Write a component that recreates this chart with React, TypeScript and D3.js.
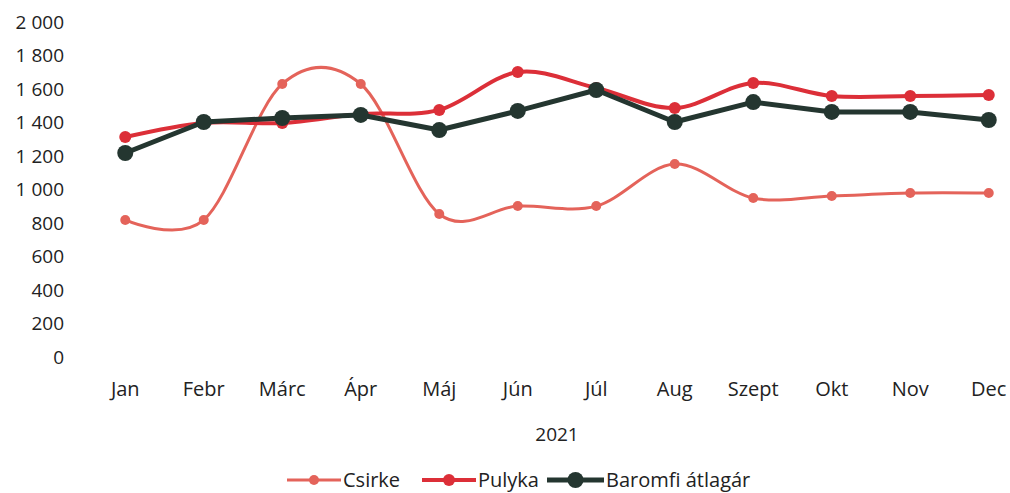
import React, { useRef, useEffect } from 'react'
import * as d3 from 'd3'

const months = ['Jan', 'Febr', 'Márc', 'Ápr', 'Máj', 'Jún', 'Júl', 'Aug', 'Szept', 'Okt', 'Nov', 'Dec']
const csirke = [818, 818, 1630, 1630, 854, 901, 901, 1152, 949, 961, 979, 979]
const pulyka = [1313, 1397, 1397, 1451, 1475, 1701, 1606, 1487, 1636, 1558, 1558, 1564]
const baromfi = [1218, 1403, 1427, 1445, 1355, 1469, 1594, 1403, 1522, 1463, 1463, 1415]
const yTicks = [0, 200, 400, 600, 800, 1000, 1200, 1400, 1600, 1800, 2000]
const xTitle = '2021'

const W = 1010
const H = 493
const FONT = '"Open Sans", "Noto Sans", sans-serif'

const series = [
  { name: 'Csirke', values: csirke, color: '#e4635a', width: 3, r: 5, smooth: true },
  { name: 'Pulyka', values: pulyka, color: '#dc2f38', width: 4, r: 6, smooth: true },
  { name: 'Baromfi átlagár', values: baromfi, color: '#243630', width: 5, r: 8, smooth: false },
]

export default function App() {
  const svgRef = useRef<SVGSVGElement>(null)

  useEffect(() => {
    if (!svgRef.current) return
    const svg = d3.select(svgRef.current)
    svg.selectAll('*').remove()

    const x = d3.scaleBand<string>().domain(months).range([86, 1028])
    const cx = (m: string) => (x(m) as number) + x.bandwidth() / 2
    const y = d3.scaleLinear().domain([0, 2000]).range([357, 22])

    svg.append('rect').attr('width', W).attr('height', H).attr('fill', '#ffffff')

    // y axis labels (thousands separated by space)
    const fmt = (v: number) => d3.format(',')(v).replace(/,/g, ' ')
    svg.append('g')
      .selectAll('text')
      .data(yTicks)
      .join('text')
      .attr('x', 64)
      .attr('y', d => y(d))
      .attr('dy', '0.35em')
      .attr('text-anchor', 'end')
      .attr('font-family', FONT)
      .attr('font-size', 19)
      .attr('fill', '#222')
      .text(d => fmt(d))

    // x axis labels
    svg.append('g')
      .selectAll('text')
      .data(months)
      .join('text')
      .attr('x', d => cx(d))
      .attr('y', 396)
      .attr('text-anchor', 'middle')
      .attr('font-family', FONT)
      .attr('font-size', 20)
      .attr('fill', '#222')
      .text(d => d)

    svg.append('text')
      .attr('x', 557)
      .attr('y', 441)
      .attr('text-anchor', 'middle')
      .attr('font-family', FONT)
      .attr('font-size', 19)
      .attr('fill', '#222')
      .text(xTitle)

    series.forEach(s => {
      const line = d3.line<number>()
        .x((_, i) => cx(months[i]))
        .y(d => y(d))
        .curve(s.smooth ? d3.curveCatmullRom.alpha(0) : d3.curveLinear)

      const g = svg.append('g')
      g.append('path')
        .datum(s.values)
        .attr('fill', 'none')
        .attr('stroke', s.color)
        .attr('stroke-width', s.width)
        .attr('stroke-linejoin', 'round')
        .attr('d', line)
      g.selectAll('circle')
        .data(s.values)
        .join('circle')
        .attr('cx', (_, i) => cx(months[i]))
        .attr('cy', d => y(d))
        .attr('r', s.r)
        .attr('fill', s.color)
    })

    // legend
    const legend = [
      { x0: 287, tx: 343 },
      { x0: 422, tx: 478 },
      { x0: 547, tx: 606 },
    ]
    const ly = 480
    series.forEach((s, i) => {
      const p = legend[i]
      const g = svg.append('g')
      g.append('line')
        .attr('x1', p.x0).attr('x2', p.tx - 2)
        .attr('y1', ly).attr('y2', ly)
        .attr('stroke', s.color).attr('stroke-width', s.width)
      g.append('circle')
        .attr('cx', (p.x0 + p.tx - 2) / 2).attr('cy', ly)
        .attr('r', s.r).attr('fill', s.color)
      g.append('text')
        .attr('x', p.tx).attr('y', ly)
        .attr('dy', '0.35em')
        .attr('font-family', FONT)
        .attr('font-size', 20)
        .attr('fill', '#222')
        .text(s.name)
    })
  }, [])

  return (
    <svg
      ref={svgRef}
      width={W}
      height={H}
      style={{ position: 'absolute', left: 0, top: 0, display: 'block' }}
    />
  )
}
